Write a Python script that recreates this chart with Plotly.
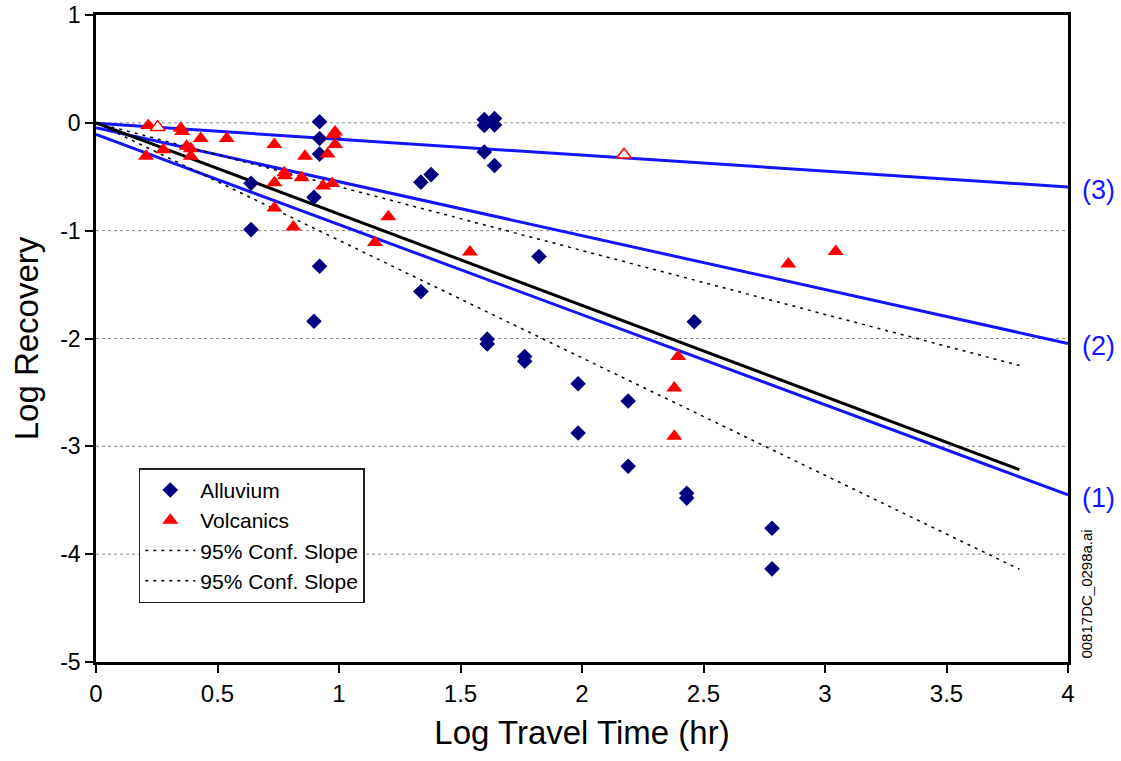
import plotly.graph_objects as go

# ---- data ----
alluvium_x = [0.638, 0.638, 0.897, 0.897, 0.92, 0.92, 0.92, 0.92, 1.337, 1.379, 1.337,
              1.598, 1.598, 1.64, 1.64, 1.598, 1.64, 1.61, 1.61, 1.764, 1.764, 1.823,
              1.984, 1.984, 2.19, 2.19, 2.462, 2.431, 2.431, 2.782, 2.782]
alluvium_y = [-0.56, -0.99, -0.69, -1.84, 0.01, -0.145, -0.29, -1.33, -0.55, -0.48, -1.565,
              0.03, -0.025, 0.04, -0.02, -0.27, -0.395, -2.006, -2.05, -2.167, -2.21, -1.24,
              -2.42, -2.876, -2.58, -3.185, -1.845, -3.435, -3.48, -3.76, -4.136]

volcanics_x = [0.215, 0.349, 0.355, 0.431, 0.538, 0.206, 0.277, 0.373, 0.39, 0.39,
               0.734, 0.860, 0.775, 0.778, 0.846, 0.734, 0.935, 0.972, 0.734, 0.812,
               0.953, 0.984, 0.977, 0.984, 1.203, 1.148, 1.539, 2.396, 2.38, 2.38,
               2.849, 3.044]
volcanics_y = [-0.025, -0.05, -0.08, -0.145, -0.145, -0.31, -0.25, -0.216, -0.24, -0.31,
               -0.20, -0.31, -0.463, -0.49, -0.51, -0.556, -0.586, -0.562, -0.79, -0.966,
               -0.29, -0.086, -0.108, -0.20, -0.87, -1.11, -1.197, -2.167, -2.46, -2.907,
               -1.31, -1.194]
volcanics_open_x = [0.254, 2.173]
volcanics_open_y = [-0.04, -0.296]

fit_x = [0, 3.8]
fit_y = [0, -3.216]
conf_upper_x = [0, 3.8]
conf_upper_y = [0, -2.25]
conf_lower_x = [0, 3.8]
conf_lower_y = [0, -4.14]

line1_x = [0, 4]
line1_y = [-0.108, -3.45]
line2_x = [0, 4]
line2_y = [-0.046, -2.046]
line3_x = [0, 4]
line3_y = [-0.005, -0.595]
line_labels = ["(1)", "(2)", "(3)"]

x_ticks = [0, 0.5, 1, 1.5, 2, 2.5, 3, 3.5, 4]
x_ticktext = ["0", "0.5", "1", "1.5", "2", "2.5", "3", "3.5", "4"]
y_ticks = [1, 0, -1, -2, -3, -4, -5]
y_ticktext = ["1", "0", "-1", "-2", "-3", "-4", "-5"]
grid_levels = [0, -1, -2, -3, -4]

FONT = "Arial, Liberation Sans, sans-serif"
BLUE = "#1414ff"

fig = go.Figure()

# reference lines (1)(2)(3)
for lx, ly in [(line1_x, line1_y), (line2_x, line2_y), (line3_x, line3_y)]:
    fig.add_trace(go.Scatter(x=lx, y=ly, mode="lines", line=dict(color=BLUE, width=3),
                             showlegend=False, hoverinfo="skip"))

# regression line
fig.add_trace(go.Scatter(x=fit_x, y=fit_y, mode="lines", line=dict(color="black", width=3),
                         showlegend=False))

# confidence slopes
fig.add_trace(go.Scatter(x=conf_upper_x, y=conf_upper_y, mode="lines", name="95% Conf. Slope",
                         line=dict(color="black", width=1.5, dash="3px,5px"), legendrank=3))
fig.add_trace(go.Scatter(x=conf_lower_x, y=conf_lower_y, mode="lines", name="95% Conf. Slope",
                         line=dict(color="black", width=1.5, dash="3px,5px"), legendrank=4))

# data points
fig.add_trace(go.Scatter(x=alluvium_x, y=alluvium_y, mode="markers", name="Alluvium",
                         marker=dict(symbol="diamond", size=12, color="#000080"),
                         legendrank=1))
fig.add_trace(go.Scatter(x=volcanics_x, y=volcanics_y, mode="markers", name="Volcanics",
                         marker=dict(symbol="triangle-up", size=14, color="#ff0000"),
                         legendrank=2))
fig.add_trace(go.Scatter(x=volcanics_open_x, y=volcanics_open_y, mode="markers",
                         marker=dict(symbol="triangle-up", size=13, color="white",
                                     line=dict(color="#ff0000", width=1.5)),
                         showlegend=False))

# dashed horizontal grid lines
for g in grid_levels:
    fig.add_shape(type="line", xref="paper", yref="y", x0=0, x1=1, y0=g, y1=g,
                  line=dict(color="#8a8a8a", width=1, dash="3px,3px"), layer="below")

# labels for the reference lines
for lab, ly in zip(line_labels, [line1_y, line2_y, line3_y]):
    fig.add_annotation(x=4, y=ly[-1], text=lab, xref="x", yref="y", showarrow=False,
                       xanchor="left", xshift=12, yshift=-3,
                       font=dict(family=FONT, size=27, color=BLUE))

fig.add_annotation(x=1, y=0.105, xref="paper", yref="paper", text="00817DC_0298a.ai",
                   showarrow=False, textangle=-90, xanchor="left", yanchor="middle",
                   xshift=8, font=dict(family=FONT, size=15, color="black"))

fig.update_layout(
    width=1121, height=761,
    margin=dict(l=96, r=53, t=15, b=99),
    plot_bgcolor="white", paper_bgcolor="white",
    font=dict(family=FONT, color="black"),
    showlegend=True,
    legend=dict(x=0.044, y=0.2994, xanchor="left", yanchor="top",
                bgcolor="white", bordercolor="#222222", borderwidth=1.5,
                font=dict(family=FONT, size=21, color="black"),
                tracegroupgap=0, itemwidth=50),
    xaxis=dict(range=[0, 4], tickvals=x_ticks, ticktext=x_ticktext,
               showgrid=False, zeroline=False, automargin=False,
               ticklabeloverflow="allow",
               showline=True, linecolor="black", linewidth=2.5, mirror=True,
               ticks="outside", ticklen=8, tickwidth=1.5, tickcolor="black",
               tickfont=dict(family=FONT, size=24),
               title=dict(text="Log Travel Time (hr)", font=dict(family=FONT, size=33),
                          standoff=16)),
    yaxis=dict(range=[-5, 1], tickvals=y_ticks, ticktext=y_ticktext,
               showgrid=False, zeroline=False, automargin=False,
               ticklabeloverflow="allow",
               showline=True, linecolor="black", linewidth=2.5, mirror=True,
               ticks="outside", ticklen=8, tickwidth=1.5, tickcolor="black",
               tickfont=dict(family=FONT, size=23),
               title=dict(text="Log Recovery", font=dict(family=FONT, size=33),
                          standoff=12)),
)

fig.write_html("out.html")
